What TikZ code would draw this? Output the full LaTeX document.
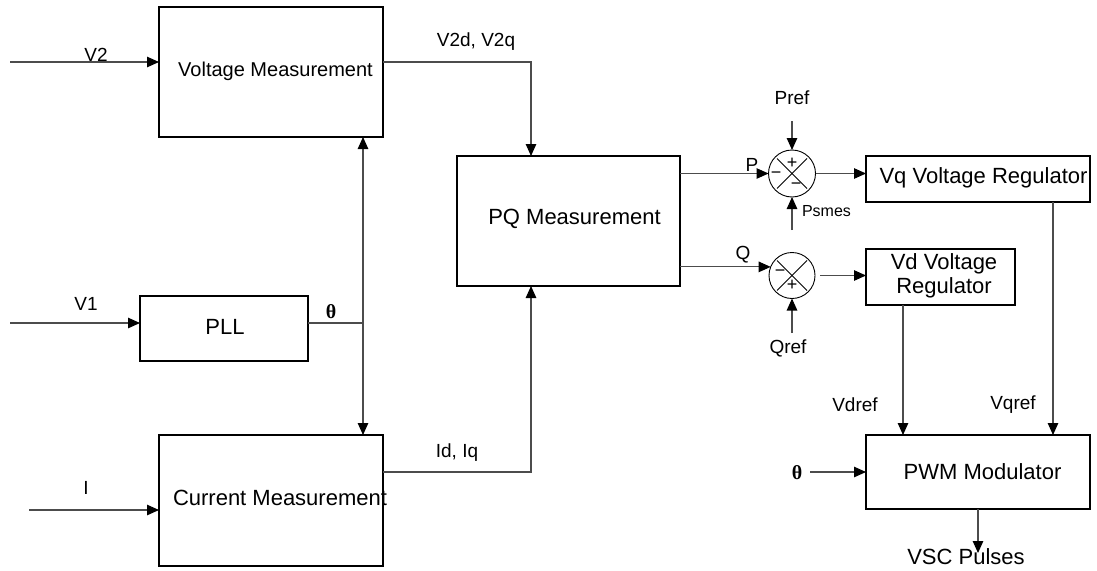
\documentclass[tikz,border=0pt]{standalone}
\usepackage{fontspec}
\setmainfont{Liberation Sans}
\newfontfamily\thetafont{Liberation Serif}
\usetikzlibrary{arrows.meta,calc}
\begin{document}
\begin{tikzpicture}[x=1pt,y=-1pt,
  blk/.style={draw=black,line width=1.1pt,inner sep=0pt,outer sep=0pt},
  sum/.style={draw=black,line width=0.9pt,circle,inner sep=0pt,outer sep=0pt,minimum size=47pt},
  conn/.style={draw=black!70,line width=1.1pt},
  arr/.style={conn,-{Triangle[length=12pt,width=10.5pt,color=black]}},
  big/.style={inner sep=0pt,font=\fontsize{22}{24}\selectfont,align=center},
  lbl/.style={inner sep=0pt,font=\fontsize{19}{22}\selectfont},
  sgn/.style={inner sep=0pt,font=\fontsize{18}{18}\selectfont},
  th/.style={inner sep=0pt,font=\fontsize{20}{22}\selectfont\thetafont\bfseries}]
\useasboundingbox (0,0) rectangle (1097,570);
% blocks
\node[blk,minimum width=224pt,minimum height=130pt] (VM) at (271,72) {};
\node[blk,minimum width=168pt,minimum height=65pt] (PLL) at (224,328.5) {};
\node[blk,minimum width=224pt,minimum height=131pt] (CM) at (271,500.5) {};
\node[blk,minimum width=223pt,minimum height=130pt] (PQ) at (568.5,221) {};
\node[blk,minimum width=224pt,minimum height=46pt] (Vq) at (978,179) {};
\node[blk,minimum width=149pt,minimum height=56pt] (Vd) at (940.5,277) {};
\node[blk,minimum width=224pt,minimum height=74pt] (PWM) at (978,472) {};
\node[sum] (S1) at (792,173.5) {};
\node[sum,minimum size=46pt] (S2) at (792,275.5) {};
% block texts
\node[big,font=\fontsize{20}{22}\selectfont] (tVM) at (275.5,71) {Voltage Measurement};
\node[big] (tPLL) at (225,327) {PLL};
\node[big] (tCM) at (280,498) {Current Measurement};
\node[big] (tPQ) at (574.5,219) {PQ Measurement};
\node[big] (tVq) at (983.5,178) {Vq Voltage Regulator};
\node[big] (tVd) at (944,276) {Vd Voltage\\Regulator};
\node[big] (tPWM) at (982.5,472) {PWM Modulator};
% coordinates
\coordinate (v2in) at (10,62);
\coordinate (v1in) at (10,323);
\coordinate (iin) at (29,510);
\coordinate (j) at (363,323);
\coordinate (jx) at (531,0);
\coordinate (idy) at (0,472);
\coordinate (pref) at (792,121);
\coordinate (psm) at (792,230);
\coordinate (qref) at (792,333);
\coordinate (thin) at (810,472);
\coordinate (vsc) at (978,553);
\coordinate (vdx) at (903,0);
\coordinate (vqx) at (1053,0);
% connectors
\draw[arr] (v2in) -- (v2in -| VM.west);
\draw[arr] (v1in) -- (v1in -| PLL.west);
\draw[arr] (iin) -- (iin -| CM.west);
\draw[conn] (j -| PLL.east) -- (j);
\draw[arr] (j) -- (j |- VM.south);
\draw[arr] (j) -- (j |- CM.north);
\draw[arr] (v2in -| VM.east) -| (jx |- PQ.north);
\draw[arr] (idy -| CM.east) -| (jx |- PQ.south);
\draw[arr] (PQ.east |- S1.west) -- (S1.west);
\draw[arr] (PQ.east |- S2.158) -- (S2.158);
\draw[arr] (pref) -- (S1.north);
\draw[arr] (psm) -- (S1.south);
\draw[arr] (qref) -- (S2.south);
\draw[arr] (S1.east) -- (S1.east -| Vq.west);
\draw[arr] ([xshift=5pt]S2.east) -- (S2.east -| Vd.west);
\draw[arr] (vdx |- Vd.south) -- (vdx |- PWM.north);
\draw[arr] (vqx |- Vq.south) -- (vqx |- PWM.north);
\draw[arr] (thin) -- (thin -| PWM.west);
\draw[arr] (PWM.south -| vsc) -- (vsc);
% summing junction crosses
\draw[line width=0.8pt] ($(S1.center)+(-15,-15)$) -- ($(S1.center)+(15,15)$);
\draw[line width=0.8pt] ($(S1.center)+(15,-15)$) -- ($(S1.center)+(-15,15)$);
\draw[line width=0.8pt] ($(S2.center)+(-15,-15)$) -- ($(S2.center)+(15,15)$);
\draw[line width=0.8pt] ($(S2.center)+(15,-15)$) -- ($(S2.center)+(-15,15)$);
\node[sgn] (s1p) at (792,163) {+};
\node[sgn] (s1m) at (776,175) {\char"2212};
\node[sgn] (s1m2) at (796,186) {\char"2212};
\node[sgn] (s2m) at (780,273) {\char"2212};
\node[sgn] (s2p) at (792,285) {+};
% labels
\node[lbl] (lV2) at (96,55) {V2};
\node[lbl] (lV1) at (86,304) {V1};
\node[th] (lth) at (331,312) {θ};
\node[lbl] (lI) at (86,488) {I};
\node[lbl] (lV2d) at (476,42) {V2d, V2q};
\node[lbl] (lId) at (457,453) {Id, Iq};
\node[lbl] (lP) at (752,165) {P};
\node[lbl] (lQ) at (743,255) {Q};
\node[lbl] (lPref) at (792,98) {Pref};
\node[lbl,font=\fontsize{16}{18}\selectfont] (lPs) at (826.5,211) {Psmes};
\node[lbl] (lQref) at (788,348) {Qref};
\node[lbl] (lVdref) at (855,405) {Vdref};
\node[lbl] (lVqref) at (1013,405) {Vqref};
\node[th] (lth2) at (797,473) {θ};
\node[big] (lVSC) at (966,557) {VSC Pulses};
\end{tikzpicture}
\end{document}
